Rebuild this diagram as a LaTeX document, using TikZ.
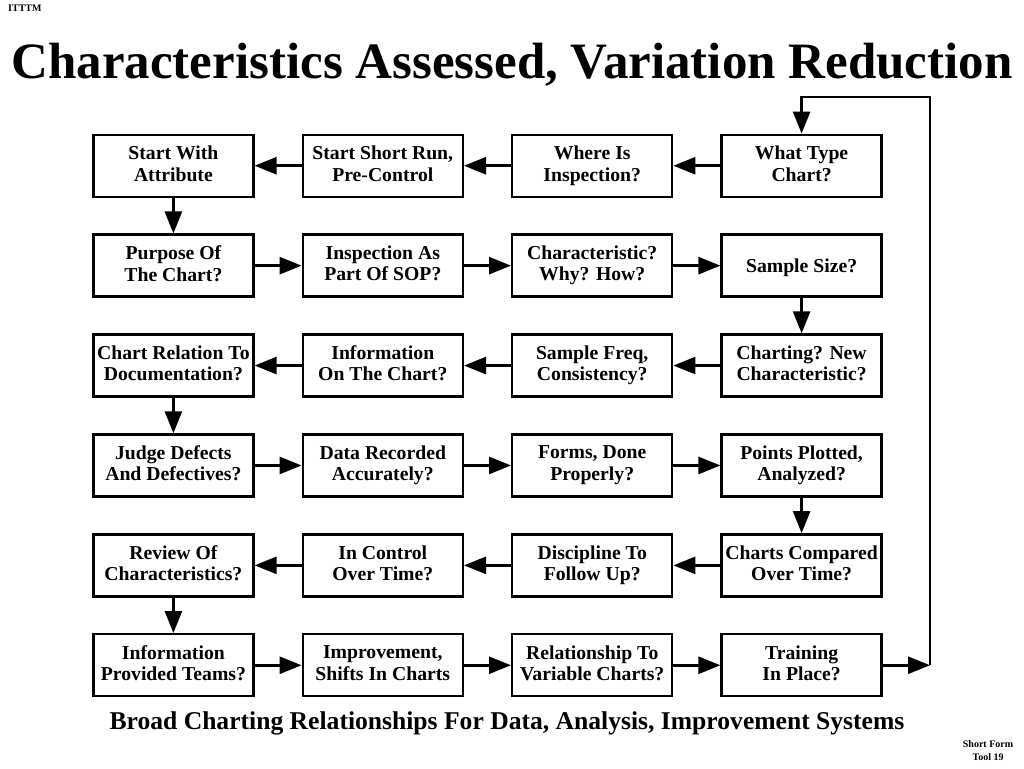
\documentclass[tikz,border=0pt]{standalone}
\usepackage{fontspec}
\setmainfont{Liberation Serif}
\usetikzlibrary{arrows.meta,positioning}

\begin{document}
\begin{tikzpicture}[x=1pt,y=-1pt,
box/.style={draw,line width=2.4pt,rectangle,minimum width=160pt,minimum height=62pt,inner sep=1pt,align=center,font=\fontsize{19.7}{21.5}\selectfont\bfseries,
    execute at begin node={\rule{0pt}{17.8pt}},execute at end node={\rule[-4.5pt]{0pt}{4.5pt}}},
link/.style={line width=2.6pt,-{Triangle[length=22pt,width=17pt]}}]
\useasboundingbox (0,0) rectangle (1024,768);
\node (corner) [anchor=north west,inner sep=0pt,font=\fontsize{10}{12}\selectfont\bfseries] at (8,5) {ITTTM};
\node (title) [anchor=base,inner sep=0pt,font=\fontsize{51}{56}\selectfont\bfseries] at (512,78) {Characteristics Assessed, Variation Reduction};
\matrix (flow) [row sep=35.5pt,column sep=47pt] at (487.5,415.5) {
\node (attr) [box] {Start With\\Attribute}; &
\node (shortrun) [box] {Start Short Run,\\Pre-Control}; &
\node (where) [box] {Where Is\\Inspection?}; &
\node (type) [box] {What Type\\Chart?};
\\
\node (purpose) [box] {Purpose Of\\The Chart?}; &
\node (sop) [box] {Inspection As\\Part Of SOP?}; &
\node (why) [box] {Characteristic?\\Why? How?}; &
\node (size) [box] {Sample Size?};
\\
\node (relation) [box] {Chart Relation To\\Documentation?}; &
\node (info) [box] {Information\\On The Chart?}; &
\node (freq) [box] {Sample Freq,\\Consistency?}; &
\node (newchar) [box] {Charting? New\\Characteristic?};
\\
\node (judge) [box] {Judge Defects\\And Defectives?}; &
\node (recorded) [box] {Data Recorded\\Accurately?}; &
\node (forms) [box] {Forms, Done\\Properly?}; &
\node (plotted) [box] {Points Plotted,\\Analyzed?};
\\
\node (review) [box] {Review Of\\Characteristics?}; &
\node (control) [box] {In Control\\Over Time?}; &
\node (discipline) [box] {Discipline To\\Follow Up?}; &
\node (compared) [box] {Charts Compared\\Over Time?};
\\
\node (teams) [box] {Information\\Provided Teams?}; &
\node (shifts) [box] {Improvement,\\Shifts In Charts}; &
\node (variable) [box] {Relationship To\\Variable Charts?}; &
\node (training) [box] {Training\\In Place?};
\\
};
% snake through the rows
\draw[link] (type) -- (where);
\draw[link] (where) -- (shortrun);
\draw[link] (shortrun) -- (attr);
\draw[link] (attr) -- (purpose);
\draw[link] (purpose) -- (sop);
\draw[link] (sop) -- (why);
\draw[link] (why) -- (size);
\draw[link] (size) -- (newchar);
\draw[link] (newchar) -- (freq);
\draw[link] (freq) -- (info);
\draw[link] (info) -- (relation);
\draw[link] (relation) -- (judge);
\draw[link] (judge) -- (recorded);
\draw[link] (recorded) -- (forms);
\draw[link] (forms) -- (plotted);
\draw[link] (plotted) -- (compared);
\draw[link] (compared) -- (discipline);
\draw[link] (discipline) -- (control);
\draw[link] (control) -- (review);
\draw[link] (review) -- (teams);
\draw[link] (teams) -- (shifts);
\draw[link] (shifts) -- (variable);
\draw[link] (variable) -- (training);
% back to the top
\coordinate (looptop) at (930,97);
\draw[link] (training.east) -- (training.east -| looptop);
\draw[link] (training.east -| looptop) -- (looptop) -- (type.north |- looptop) -- (type.north);
\node (caption) [anchor=base,inner sep=0pt,font=\fontsize{25.6}{28}\selectfont\bfseries] at (507,729) {Broad Charting Relationships For Data, Analysis, Improvement Systems};
\node (tool) [anchor=north,inner sep=0pt,align=center,font=\fontsize{10}{13}\selectfont\bfseries] at (988,740) {Short Form\\Tool 19};
\end{tikzpicture}
\end{document}
